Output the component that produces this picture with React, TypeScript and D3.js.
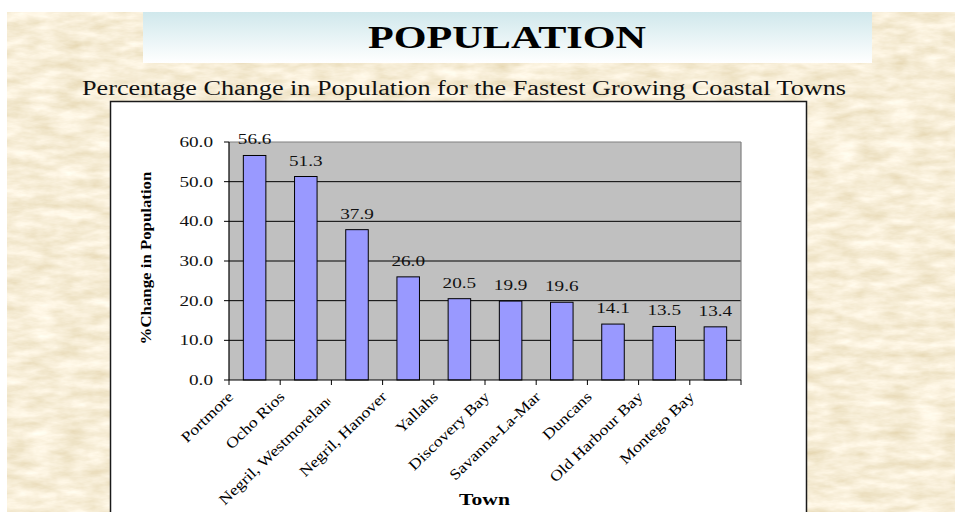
import React from "react";
import * as d3 from "d3";

const categories = [
  "Portmore",
  "Ocho Rios",
  "Negril, Westmoreland",
  "Negril, Hanover",
  "Yallahs",
  "Discovery Bay",
  "Savanna-La-Mar",
  "Duncans",
  "Old Harbour Bay",
  "Montego Bay",
];
const values = [56.6, 51.3, 37.9, 26.0, 20.5, 19.9, 19.6, 14.1, 13.5, 13.4];
const yTicks = [0, 10, 20, 30, 40, 50, 60];
const titleText = "POPULATION";
const subtitleText = "Percentage Change in Population for the Fastest Growing Coastal Towns";
const yTitle = "%Change in Population";
const xTitle = "Town";

const W = 955;
const H = 512;
const plot = { left: 229, right: 741, top: 142, bottom: 380 };
const serif = "'Times New Roman', 'Liberation Serif', Times, serif";

export default function App() {
  const x = d3
    .scaleBand<string>()
    .domain(categories)
    .range([plot.left, plot.right])
    .padding(0);
  const y = d3.scaleLinear().domain([0, 60]).range([plot.bottom, plot.top]);
  const bw = x.bandwidth() * 0.44;
  const boundaries = d3.range(categories.length + 1).map((i) => plot.left + i * x.step());

  return (
    <svg
      width={W}
      height={H}
      style={{ position: "absolute", left: 0, top: 0, display: "block" }}
    >
      <defs>
        <filter id="parch" x="0" y="0" width="100%" height="100%">
          <feTurbulence type="fractalNoise" baseFrequency="0.035 0.1" numOctaves={4} seed={11} result="n" />
          <feColorMatrix
            in="n"
            type="matrix"
            values="0.3 0 0 0 0.78  0.36 0 0 0 0.67  0.5 0 0 0 0.43  0 0 0 0 1"
            result="c"
          />
          <feComposite in="c" in2="SourceGraphic" operator="in" />
        </filter>
        <linearGradient id="titleGrad" x1="0" y1="0" x2="0" y2="1">
          <stop offset="0" stopColor="#d0e8ec" />
          <stop offset="1" stopColor="#ffffff" />
        </linearGradient>
        <clipPath id="clipLong" clipPathUnits="userSpaceOnUse">
          <rect x={-400} y={-40} width={394} height={80} />
        </clipPath>
      </defs>
      <rect x={0} y={0} width={W} height={H} fill="#ffffff" />
      <rect x={7} y={12} width={W - 7} height={H - 12} fill="#ebdab2" />
      <rect x={7} y={12} width={W - 7} height={H - 12} fill="#ebdab2" filter="url(#parch)" />

      {/* title box */}
      <rect x={143} y={12} width={729} height={51} fill="url(#titleGrad)" />
      <text
        x={507}
        y={48}
        textAnchor="middle"
        fontFamily={serif}
        fontWeight="bold"
        fontSize={32}
        textLength={278}
        lengthAdjust="spacingAndGlyphs"
        fill="#000"
      >
        {titleText}
      </text>
      <text
        x={464}
        y={95}
        textAnchor="middle"
        fontFamily={serif}
        fontSize={20}
        textLength={764}
        lengthAdjust="spacingAndGlyphs"
        fill="#111"
      >
        {subtitleText}
      </text>

      {/* chart area */}
      <rect x={110.5} y={101.5} width={696} height={430} fill="#ffffff" stroke="#1a1a1a" strokeWidth={1.5} />
      <rect
        x={plot.left}
        y={plot.top}
        width={plot.right - plot.left}
        height={plot.bottom - plot.top}
        fill="#c0c0c0"
      />
      {yTicks
        .filter((t) => t > 0 && t < 60)
        .map((t) => (
          <line key={"g" + t} x1={plot.left} x2={plot.right} y1={y(t)} y2={y(t)} stroke="#000" strokeWidth={1} />
        ))}
      <line x1={plot.left} x2={plot.right} y1={y(60)} y2={y(60)} stroke="#808080" strokeWidth={1.2} />
      <line x1={plot.right} x2={plot.right} y1={plot.top} y2={plot.bottom} stroke="#808080" strokeWidth={1.2} />

      {categories.map((c, i) => {
        const cx = (x(c) as number) + x.bandwidth() / 2;
        return (
          <rect
            key={"b" + c}
            x={cx - bw / 2}
            y={y(values[i])}
            width={bw}
            height={plot.bottom - y(values[i])}
            fill="#9999ff"
            stroke="#000"
            strokeWidth={1}
          />
        );
      })}

      {/* axes */}
      <line x1={plot.left} x2={plot.left} y1={plot.top} y2={plot.bottom} stroke="#000" strokeWidth={1.2} />
      <line x1={plot.left} x2={plot.right} y1={plot.bottom} y2={plot.bottom} stroke="#000" strokeWidth={1.2} />
      {yTicks.map((t) => (
        <g key={"yt" + t}>
          <line x1={plot.left - 5} x2={plot.left} y1={y(t)} y2={y(t)} stroke="#000" strokeWidth={1} />
          <text
            transform={`translate(213,${y(t) + 5}) scale(1.28,1)`}
            textAnchor="end"
            fontFamily={serif}
            fontSize={15}
            fill="#111"
          >
            {d3.format(".1f")(t)}
          </text>
        </g>
      ))}
      {boundaries.map((bx, i) => (
        <line key={"xt" + i} x1={bx} x2={bx} y1={plot.bottom} y2={plot.bottom + 5} stroke="#000" strokeWidth={1} />
      ))}

      {/* value labels */}
      {categories.map((c, i) => {
        const cx = (x(c) as number) + x.bandwidth() / 2;
        return (
          <text
            key={"v" + c}
            transform={`translate(${cx},${y(values[i]) - 11}) scale(1.28,1)`}
            textAnchor="middle"
            fontFamily={serif}
            fontSize={15}
            fill="#111"
          >
            {d3.format(".1f")(values[i])}
          </text>
        );
      })}

      {/* category labels */}
      {categories.map((c) => {
        const cx = (x(c) as number) + x.bandwidth() / 2;
        const long = c.length > 16;
        return (
          <text
            key={"l" + c}
            transform={`translate(${cx - 24},${plot.bottom + 14}) rotate(-44) scale(1.18,1)`}
            textAnchor="end"
            fontFamily={serif}
            fontSize={15}
            dy="0.35em"
            fill="#000"
            clipPath={long ? "url(#clipLong)" : undefined}
          >
            {c}
          </text>
        );
      })}

      <text
        transform={`translate(151,258) rotate(-90) scale(1.16,1)`}
        textAnchor="middle"
        fontFamily={serif}
        fontWeight="bold"
        fontSize={14.5}
        fill="#000"
      >
        {yTitle}
      </text>
      <text
        transform={`translate(484.5,505) scale(1.35,1)`}
        textAnchor="middle"
        fontFamily={serif}
        fontWeight="bold"
        fontSize={16}
        fill="#000"
      >
        {xTitle}
      </text>
    </svg>
  );
}
